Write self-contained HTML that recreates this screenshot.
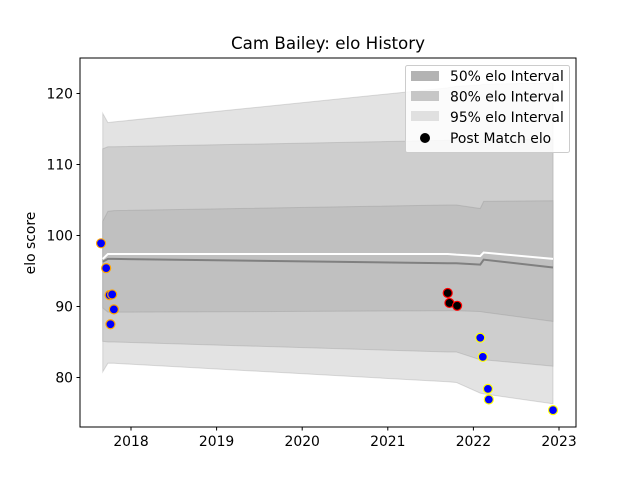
<!DOCTYPE html>
<html><head><meta charset="utf-8"><style>
body{margin:0;background:#fff;}
svg{display:block;font-family:"DejaVu Sans","Liberation Sans",sans-serif;}
</style></head><body>
<svg id="chart" width="640" height="480" viewBox="0 0 640 480" xmlns="http://www.w3.org/2000/svg">
<rect width="640" height="480" fill="#fff"/>
<text x="328" y="49" font-size="16.7" text-anchor="middle" fill="#000">Cam Bailey: elo History</text>
<g id="bands"></g><g id="lines"></g><g id="points"></g>
<rect x="80" y="58" width="496" height="369" fill="none" stroke="#000" stroke-width="1"/>
<g id="xaxis"></g><g id="yaxis"></g>
<text transform="translate(35,243) rotate(-90)" font-size="13.9" text-anchor="middle">elo score</text>
<g>
<rect x="405.5" y="65.5" width="164" height="87" rx="2" fill="#fff" fill-opacity="0.85" stroke="#ccc"/>
<rect x="411" y="71" width="28" height="10" fill="#b3b3b3"/>
<text x="450" y="81" font-size="13.9">50% elo Interval</text>
<rect x="411" y="91" width="28" height="10" fill="#c6c6c6"/>
<text x="450" y="101.5" font-size="13.9">80% elo Interval</text>
<rect x="411" y="111" width="28" height="10" fill="#e0e0e0"/>
<text x="450" y="122" font-size="13.9">95% elo Interval</text>
<circle cx="425" cy="138" r="5" fill="#000"/>
<text x="450" y="143" font-size="13.9">Post Match elo</text>
</g>
</svg>
<script>
const bandDates=[2017.67,2017.73,2017.8,2021.7,2021.8,2022.08,2022.12,2022.93];
const hi95=[117.2,115.9,116.0,120.8,121.0,121.2,121.3,121.5];
const lo95=[80.8,82.0,82.0,79.4,79.3,77.8,77.7,76.3];
const hi80=[112.2,112.5,112.5,113.4,113.4,113.3,113.5,113.5];
const lo80=[85.1,85.0,85.0,83.6,83.6,82.5,82.5,81.6];
const hi50=[102.0,103.4,103.5,104.3,104.3,103.8,104.8,104.9];
const lo50=[89.8,89.2,89.2,89.4,89.4,89.3,89.2,87.9];
const meanElo=[96.3,96.7,96.7,96.1,96.1,95.9,96.6,95.5];
const expElo=[96.7,97.4,97.4,97.4,97.3,97.1,97.6,96.7];
const ptDates=[2017.65,2017.71,2017.75,2017.78,2017.80,2017.76,2021.70,2021.72,2021.81,2022.08,2022.11,2022.17,2022.18,2022.93];
const ptElo=[98.9,95.4,91.6,91.7,89.6,87.5,91.9,90.5,90.1,85.6,82.9,78.4,76.9,75.4];
const ptEdge=['orange','orange','orange','orange','orange','orange','red','red','red','yellow','yellow','yellow','yellow','yellow'];
const ptFill=['blue','blue','blue','blue','blue','blue','black','black','black','blue','blue','blue','blue','blue'];
const xTicks=[2018,2019,2020,2021,2022,2023];
const yTicks=[80,90,100,110,120];
const NS='http://www.w3.org/2000/svg';
const X=d=>131+(d-2018)*85.6;
const Y=v=>377.5-(v-80)*7.1;
function mk(tag,attrs,parent){const e=document.createElementNS(NS,tag);for(const k in attrs)e.setAttribute(k,attrs[k]);document.getElementById(parent).appendChild(e);return e;}
function band(hi,lo,fill,name){
  let p=bandDates.map((d,i)=>X(d)+','+Y(hi[i]));
  for(let i=bandDates.length-1;i>=0;i--)p.push(X(bandDates[i])+','+Y(lo[i]));
  const e=mk('polygon',{points:p.join(' '),fill:fill,stroke:'#808080','stroke-opacity':0.25},'bands');
  
  
}
band(hi95,lo95,'#e3e3e3','band-95');
band(hi80,lo80,'#cecece','band-80');
band(hi50,lo50,'#c0c0c0','band-50');
function line(vals,col,w,name){
  const e=mk('polyline',{points:bandDates.map((d,i)=>X(d)+','+Y(vals[i])).join(' '),fill:'none',stroke:col,'stroke-width':w},'lines');
  
  
}
line(meanElo,'#808080',2,'mean-elo-line');
line(expElo,'#ffffff',2,'expected-elo-line');
ptDates.forEach((d,i)=>{
  const c=mk('circle',{cx:X(d),cy:Y(ptElo[i]),r:4.5,fill:ptFill[i],stroke:ptEdge[i],'stroke-width':1.2},'points');
  
  
});
xTicks.forEach(t=>{
  const l=mk('line',{x1:X(t),x2:X(t),y1:427,y2:430.5,stroke:'#000'},'xaxis');
  
  
  const s=mk('text',{x:X(t),y:446,'font-size':13.9,'text-anchor':'middle'},'xaxis');
  s.textContent=t;
  
  
});
yTicks.forEach(t=>{
  const l=mk('line',{x1:76.5,x2:80,y1:Y(t),y2:Y(t),stroke:'#000'},'yaxis');
  
  
  const s=mk('text',{x:73,y:Y(t)+5,'font-size':13.9,'text-anchor':'end'},'yaxis');
  s.textContent=t;
  
  
});
</script>
</body></html>
